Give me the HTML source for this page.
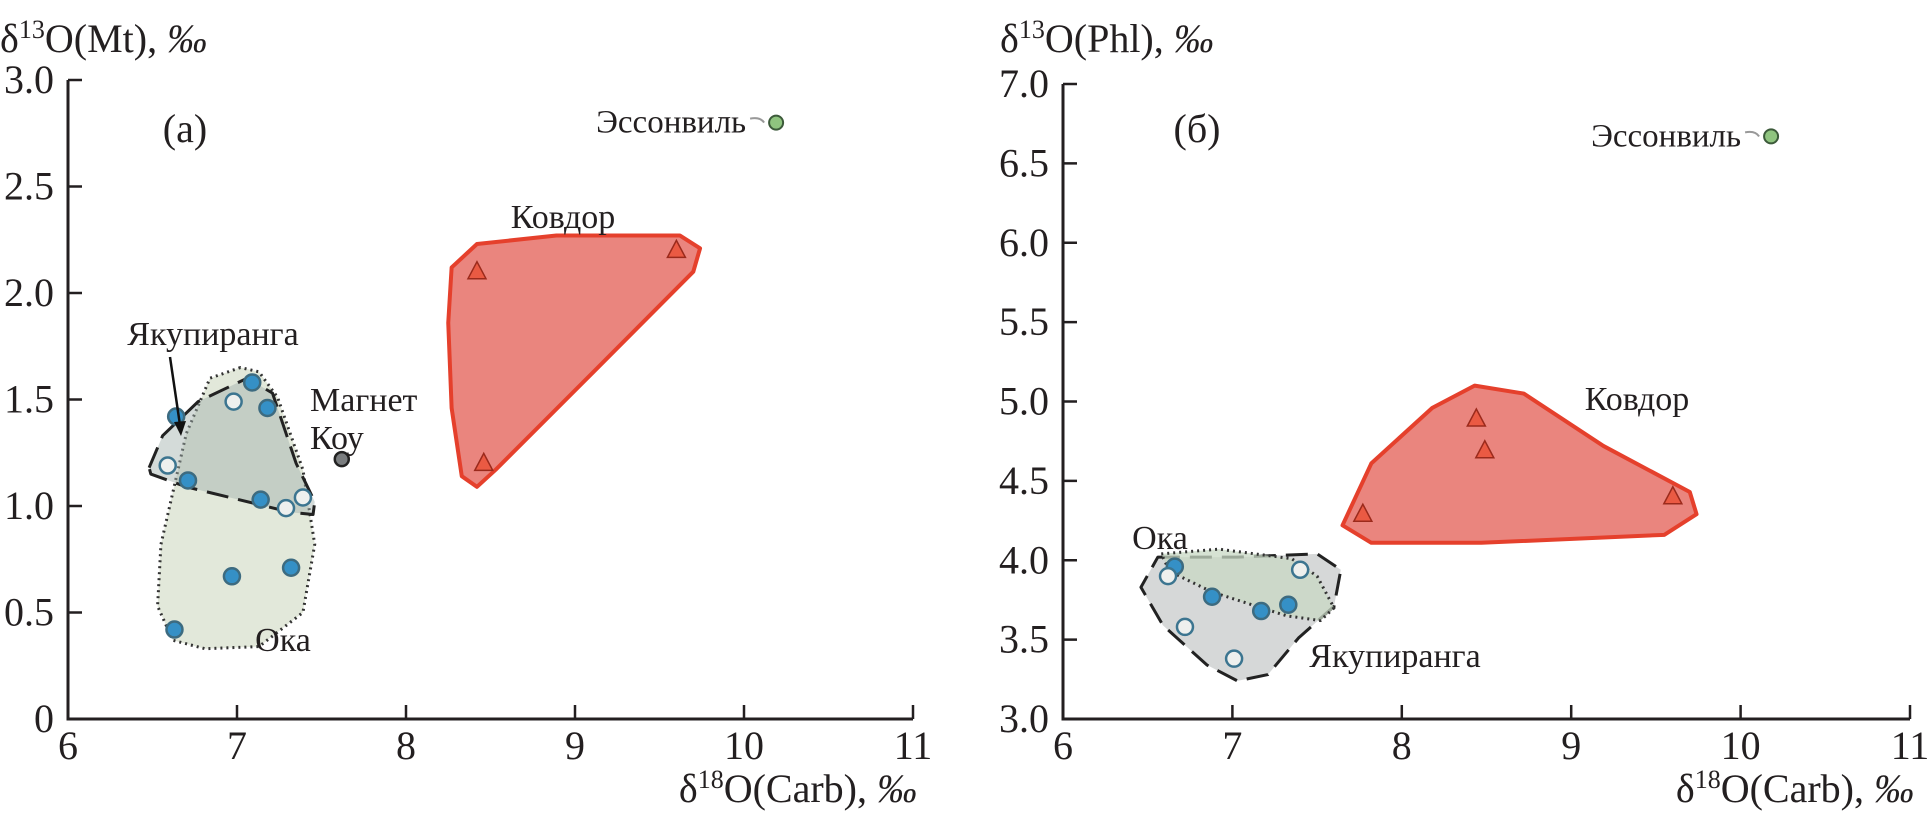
<!DOCTYPE html>
<html><head><meta charset="utf-8"><style>
html,body{margin:0;padding:0;background:#fff;}
svg{display:block;}
svg text{font-family:"Liberation Serif","DejaVu Serif",serif;}
</style></head><body>
<svg id="chart" width="1930" height="816" viewBox="0 0 1930 816"></svg>
<script>
// ---------- data: panel (a) ----------
const aXTicks=[6,7,8,9,10,11];
const aYTicks=[0,0.5,1.0,1.5,2.0,2.5,3.0];
const aYTickLabels=["0","0.5","1.0","1.5","2.0","2.5","3.0"];
const aOkaFilledX=[6.63,6.97,7.32,7.14,6.71,6.64,7.09,7.18];
const aOkaFilledY=[0.42,0.67,0.71,1.03,1.12,1.42,1.58,1.46];
const aOpenX=[6.59,6.98,7.29,7.39];
const aOpenY=[1.19,1.49,0.99,1.04];
const aKovdorX=[8.42,8.46,9.6];
const aKovdorY=[2.1,1.2,2.2];
const aEssX=[10.19], aEssY=[2.80];
const aMagX=[7.62], aMagY=[1.22];
const aOkaPolyX=[7.02,6.84,6.70,6.55,6.53,6.62,6.81,7.13,7.39,7.46,7.39,7.24,7.13];
const aOkaPolyY=[1.65,1.60,1.34,0.82,0.53,0.37,0.33,0.34,0.50,0.82,1.17,1.51,1.63];
const aYakPolyX=[6.48,6.56,6.77,7.06,7.21,7.35,7.46,7.45,7.32,6.70,6.49];
const aYakPolyY=[1.18,1.33,1.49,1.60,1.53,1.20,1.02,0.96,0.97,1.09,1.15];
const aKovPolyX=[8.27,8.42,8.89,9.62,9.74,9.70,9.11,8.53,8.42,8.33,8.27,8.25];
const aKovPolyY=[2.12,2.23,2.27,2.27,2.21,2.10,1.63,1.17,1.09,1.14,1.46,1.86];
// ---------- data: panel (b) ----------
const bXTicks=[6,7,8,9,10,11];
const bYTicks=[3.0,3.5,4.0,4.5,5.0,5.5,6.0,6.5,7.0];
const bYTickLabels=["3.0","3.5","4.0","4.5","5.0","5.5","6.0","6.5","7.0"];
const bFilledX=[6.66,6.88,7.17,7.33];
const bFilledY=[3.96,3.77,3.68,3.72];
const bOpenX=[6.62,6.72,7.01,7.40];
const bOpenY=[3.90,3.58,3.38,3.94];
const bKovdorX=[7.77,8.44,8.49,9.60];
const bKovdorY=[4.29,4.89,4.69,4.40];
const bEssX=[10.18], bEssY=[6.67];
const bKovPolyX=[7.65,7.82,8.18,8.43,8.72,9.19,9.70,9.74,9.55,8.47,7.82];
const bKovPolyY=[4.22,4.61,4.96,5.10,5.05,4.72,4.43,4.29,4.16,4.11,4.11];
const bOkaPolyX=[6.58,6.92,7.35,7.50,7.60,7.52,7.32,6.88,6.63];
const bOkaPolyY=[4.04,4.07,4.01,3.90,3.70,3.62,3.65,3.80,3.93];
const bYakPolyX=[6.56,7.03,7.50,7.64,7.60,7.39,7.21,7.03,6.85,6.59,6.46];
const bYakPolyY=[4.02,4.02,4.04,3.94,3.71,3.51,3.28,3.24,3.34,3.59,3.83];

const NS="http://www.w3.org/2000/svg";
const svg=document.getElementById('chart');
const FONT='"Liberation Serif", "DejaVu Serif", serif';
function mk(tag,attrs,parent){const e=document.createElementNS(NS,tag);for(const k in attrs)e.setAttribute(k,attrs[k]);(parent||svg).appendChild(e);return e;}
function txt(s,x,y,size,anchor,parent){const t=mk('text',{x:x,y:y,'font-size':size,'text-anchor':anchor||'start',fill:'#231f20','font-family':FONT},parent);t.textContent=s;return t;}

function panel(cfg){
  const g=mk('g',{});
  
  
  const sx=v=>cfg.x0+(v-cfg.xmin)/(cfg.xmax-cfg.xmin)*(cfg.x1-cfg.x0);
  const sy=v=>cfg.y0-(v-cfg.ymin)/(cfg.ymax-cfg.ymin)*(cfg.y0-cfg.y1);
  const poly=(xs,ys,attrs,name)=>{const p=mk('polygon',Object.assign({points:xs.map((x,i)=>sx(x)+','+sy(ys[i])).join(' '),'stroke-linejoin':'round'},attrs),g);return p;};
  cfg.regions.forEach(r=>poly(r.xs,r.ys,r.attrs,r.name));
  const ax=mk('path',{d:`M${cfg.x0},${cfg.y1} L${cfg.x0},${cfg.y0} L${cfg.x1},${cfg.y0}`,fill:'none',stroke:'#231f20','stroke-width':3},g);
  
  
  cfg.xticks.forEach((v,i)=>{
    if(i>0)mk('line',{x1:sx(v),x2:sx(v),y1:cfg.y0,y2:cfg.y0-14,stroke:'#231f20','stroke-width':2.5},g);
    const t=txt(String(v),sx(v),cfg.y0+40,40,'middle',g);
    
    
  });
  cfg.yticks.forEach((v,i)=>{
    mk('line',{x1:cfg.x0,x2:cfg.x0+14,y1:sy(v),y2:sy(v),stroke:'#231f20','stroke-width':2.5},g);
    const t=txt(cfg.ylabels[i],cfg.x0-14,sy(v)+13,40,'end',g);
    
    
  });
  const circ=(xs,ys,fill,stroke,name)=>xs.forEach((x,i)=>{const c=mk('circle',{cx:sx(x),cy:sy(ys[i]),r:8,fill:fill,stroke:stroke,'stroke-width':2.5},g);});
  circ(cfg.filledX,cfg.filledY,'#3590c6','#3d6b80','point-filled');
  circ(cfg.openX,cfg.openY,'#eef0ee','#3c7590','point-open');
  cfg.triX.forEach((x,i)=>{const X=sx(x),Y=sy(cfg.triY[i]);const p=mk('polygon',{points:`${X},${Y-10} ${X-9},${Y+7} ${X+9},${Y+7}`,fill:'#ea5a43',stroke:'#9b2a1c','stroke-width':1.5},g);});
  cfg.essX.forEach((x,i)=>{const X=sx(x),Y=sy(cfg.essY[i]);mk('path',{d:`M${X-26},${Y-4} Q${X-16},${Y-6} ${X-12},${Y}`,fill:'none',stroke:'#999','stroke-width':2},g);const c=mk('circle',{cx:X,cy:Y,r:7,fill:'#8fc47f',stroke:'#3c5a3a','stroke-width':2},g);
    const t=txt('Эссонвиль',X-30,Y+10,33,'end',g);});
  (cfg.magX||[]).forEach((x,i)=>{const c=mk('circle',{cx:sx(x),cy:sy(cfg.magY[i]),r:7,fill:'#7a7d7f',stroke:'#222','stroke-width':2.5},g);});
  cfg.labels.forEach(l=>{const t=txt(l.t,l.x,l.y,l.s||34,l.a||'middle',g);});
  const yt=mk('text',{x:cfg.ytX,y:52,'font-size':40,fill:'#231f20','font-family':FONT},g);
  yt.innerHTML='δ<tspan font-size="26" dy="-14">13</tspan><tspan dy="14">O('+cfg.ysub+'), </tspan><tspan font-style="italic">‰</tspan>';
  
  
  const xt=mk('text',{x:cfg.x1+4,y:802,'font-size':40,fill:'#231f20','text-anchor':'end','font-family':FONT},g);
  xt.innerHTML='δ<tspan font-size="26" dy="-14">18</tspan><tspan dy="14">O(Carb), </tspan><tspan font-style="italic">‰</tspan>';
  
  
  return {g,sx,sy};
}

const A=panel({name:'panel-a',x0:68,x1:913,y0:719,y1:80,xmin:6,xmax:11,ymin:0,ymax:3,
  xticks:aXTicks,yticks:aYTicks,ylabels:aYTickLabels,ysub:'Mt',ytX:0,
  regions:[
    {xs:aKovPolyX,ys:aKovPolyY,name:'region-kovdor',attrs:{fill:'#ea857e',stroke:'#e5402c','stroke-width':4}},
    {xs:aOkaPolyX,ys:aOkaPolyY,name:'region-oka',attrs:{fill:'#e2e8da',stroke:'#333','stroke-width':3,'stroke-dasharray':'2 4'}},
    {xs:aYakPolyX,ys:aYakPolyY,name:'region-yakupiranga',attrs:{fill:'rgba(160,175,170,0.45)',stroke:'#222','stroke-width':3,'stroke-dasharray':'22 10'}}
  ],
  filledX:aOkaFilledX,filledY:aOkaFilledY,openX:aOpenX,openY:aOpenY,triX:aKovdorX,triY:aKovdorY,essX:aEssX,essY:aEssY,magX:aMagX,magY:aMagY,
  labels:[{t:'(a)',x:185,y:142,s:40,name:'panel-label-a'},{t:'Ковдор',x:563,y:228,name:'label-kovdor'},
    {t:'Якупиранга',x:213,y:345,name:'label-yakupiranga'},{t:'Магнет',x:310,y:411,a:'start',name:'label-magnet'},
    {t:'Коу',x:310,y:449,a:'start',name:'label-cove'},{t:'Ока',x:283,y:651,name:'label-oka'}]
});
mk('line',{x1:170,y1:357,x2:180,y2:425,stroke:'#111','stroke-width':2.5},A.g);
mk('polygon',{points:'181,436 174,422 186,421',fill:'#111'},A.g);

panel({name:'panel-b',x0:1063,x1:1910,y0:719,y1:84,xmin:6,xmax:11,ymin:3,ymax:7,
  xticks:bXTicks,yticks:bYTicks,ylabels:bYTickLabels,ysub:'Phl',ytX:1000,
  regions:[
    {xs:bKovPolyX,ys:bKovPolyY,name:'region-kovdor',attrs:{fill:'#ea857e',stroke:'#e5402c','stroke-width':4}},
    {xs:bYakPolyX,ys:bYakPolyY,name:'region-yakupiranga',attrs:{fill:'#d6d8d8',stroke:'#222','stroke-width':3,'stroke-dasharray':'22 10'}},
    {xs:bOkaPolyX,ys:bOkaPolyY,name:'region-oka',attrs:{fill:'rgba(200,216,196,0.75)',stroke:'#333','stroke-width':3,'stroke-dasharray':'2 4'}}
  ],
  filledX:bFilledX,filledY:bFilledY,openX:bOpenX,openY:bOpenY,triX:bKovdorX,triY:bKovdorY,essX:bEssX,essY:bEssY,
  labels:[{t:'(б)',x:1197,y:142,s:40,name:'panel-label-b'},{t:'Ковдор',x:1637,y:410,name:'label-kovdor'},
    {t:'Ока',x:1160,y:549,name:'label-oka'},{t:'Якупиранга',x:1395,y:667,name:'label-yakupiranga'}]
});
</script>
</body></html>
